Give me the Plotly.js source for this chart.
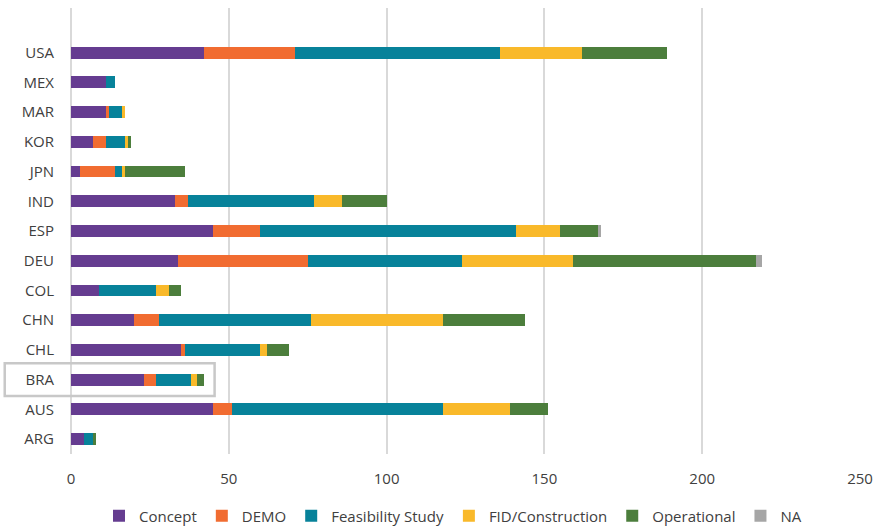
<!DOCTYPE html>
<html><head><meta charset="utf-8">
<script src="https://cdn.plot.ly/plotly-3.0.1.min.js"></script>
<style>html,body{margin:0;padding:0;background:#fff;}#chart{width:877px;height:529px;}</style>
</head><body><div id="chart"></div>
<script>
// Categories (top to bottom as displayed)
const countries = ["USA","MEX","MAR","KOR","JPN","IND","ESP","DEU","COL","CHN","CHL","BRA","AUS","ARG"];
const concept      = [42, 11, 11, 7, 3, 33, 45, 34, 9, 20, 35, 23, 45, 4];
const demo         = [29, 0, 1, 4, 11, 4, 15, 41, 0, 8, 1, 4, 6, 0];
const feasibility  = [65, 3, 4, 6, 2, 40, 81, 49, 18, 48, 24, 11, 67, 3];
const fidConstr    = [26, 0, 1, 1, 1, 9, 14, 35, 4, 42, 2, 2, 21, 0];
const operational  = [27, 0, 0, 1, 19, 14, 12, 58, 4, 26, 7, 2, 12, 1];
const na           = [0, 0, 0, 0, 0, 0, 1, 2, 0, 0, 0, 0, 0, 0];
const seriesNames  = ["Concept","DEMO","Feasibility Study","FID/Construction","Operational","NA"];
const xTicks       = [0, 50, 100, 150, 200, 250];
const highlighted  = "BRA";

const colors = ["#653c90","#f16c31","#07829a","#f9b92a","#4c7e3c","#a6a6a6"];
const seriesData = [concept, demo, feasibility, fidConstr, operational, na];

const traces = seriesData.map((vals, i) => ({
  type: "bar",
  orientation: "h",
  name: seriesNames[i],
  x: vals,
  y: countries,
  marker: {color: colors[i], line: {width: 0}},
  hoverinfo: "x+y+name"
}));

const catOrder = countries.slice().reverse();
const hIdx = catOrder.indexOf(highlighted);
const nSlots = 15; // range -0.5 .. 14.5
const xMax = 250;

const layout = {
  width: 877, height: 529,
  margin: {l: 71, r: 17, t: 8, b: 75, autoexpand: false},
  barmode: "stack",
  bargap: 0.6,
  paper_bgcolor: "#fff", plot_bgcolor: "#fff",
  font: {family: "Open Sans, sans-serif", color: "#404040"},
  xaxis: {
    range: [0, xMax], tickvals: xTicks, ticktext: xTicks.map(String),
    showgrid: true, gridcolor: "#d9d9d9", gridwidth: 2,
    zeroline: true, zerolinecolor: "#d9d9d9", zerolinewidth: 2,
    showline: false, ticks: "", ticklabelstandoff: 14,
    tickfont: {size: 15, color: "#404040"}
  },
  yaxis: {
    type: "category", categoryorder: "array", categoryarray: catOrder,
    range: [-0.5, 14.5], autorange: false,
    showgrid: false, zeroline: false, showline: false, ticks: "",
    ticklabelstandoff: 16,
    tickfont: {size: 15, color: "#404040"}
  },
  legend: {
    orientation: "h", xref: "container", yref: "container",
    x: 453 / 877, xanchor: "center", y: 13 / 529, yanchor: "middle",
    font: {size: 15, color: "#404040"}, traceorder: "normal",
    itemwidth: 30
  },
  showlegend: true,
  shapes: [{
    type: "rect", xref: "paper", yref: "paper",
    x0: -21 / xMax, x1: 45.5 / xMax,
    y0: (hIdx + 0.5 - 0.55) / nSlots, y1: (hIdx + 0.5 + 0.55) / nSlots,
    line: {color: "#c8c8c8", width: 2.5}, fillcolor: "rgba(0,0,0,0)"
  }]
};

Plotly.newPlot("chart", traces, layout, {displayModeBar: false, staticPlot: true});
</script>
</body></html>
